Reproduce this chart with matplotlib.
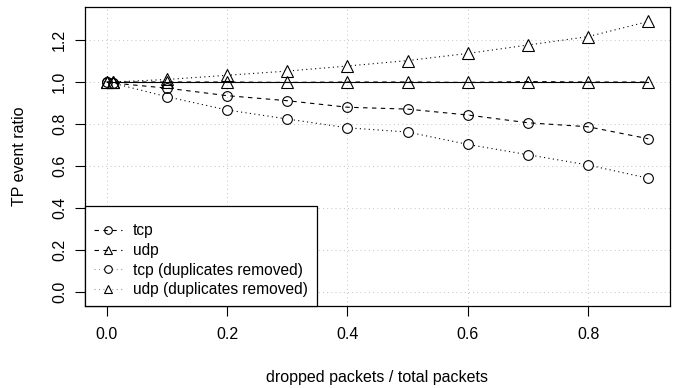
import matplotlib
matplotlib.use("Agg")
import matplotlib.pyplot as plt
from matplotlib.lines import Line2D

plt.rcParams['font.family'] = ['Liberation Sans', 'DejaVu Sans']

# dropped packets / total packets
drop_ratio = [0.0, 0.01, 0.1, 0.2, 0.3, 0.4, 0.5, 0.6, 0.7, 0.8, 0.9]

# TP event ratio per series
tcp = [1.0, 0.995, 0.971, 0.935, 0.911, 0.880, 0.871, 0.843, 0.806, 0.787, 0.730]
udp = [1.0, 1.0, 1.0, 1.0, 0.998, 1.0, 1.0, 0.998, 1.002, 1.0, 1.0]
tcp_dedup = [1.0, 0.995, 0.930, 0.867, 0.824, 0.782, 0.762, 0.703, 0.654, 0.605, 0.542]
udp_dedup = [1.0, 1.0, 1.012, 1.032, 1.052, 1.076, 1.102, 1.136, 1.176, 1.216, 1.288]
baseline = [1.0] * len(drop_ratio)

xticks = [0.0, 0.2, 0.4, 0.6, 0.8]
yticks = [0.0, 0.2, 0.4, 0.6, 0.8, 1.0, 1.2]

fig = plt.figure(figsize=(6.81, 3.88), dpi=100)
ax = fig.add_axes([0.1248, 0.2113, 0.8590, 0.7707])

# grid like R's grid()
for v in xticks:
    ax.axvline(v, color='#c8c8c8', lw=0.75, ls=(0, (1, 3)), zorder=0)
for v in yticks:
    ax.axhline(v, color='#c8c8c8', lw=0.75, ls=(0, (1, 3)), zorder=0)

lw = 0.8
ms = 7
# duplicates removed: dotted lines broken at the points
ax.plot(drop_ratio, tcp_dedup, color='black', lw=lw, ls=(0, (1, 3)),
        marker='o', ms=ms, mfc='white', mec='black', mew=lw, zorder=2)
ax.plot(drop_ratio, udp_dedup, color='black', lw=lw, ls=(0, (1, 3)),
        marker='^', ms=ms + 1, mfc='white', mec='black', mew=lw, zorder=2)
ax.plot(drop_ratio, baseline, color='black', lw=lw, zorder=3)
ax.plot(drop_ratio, tcp, color='black', lw=lw, ls=(0, (4, 4)),
        marker='o', ms=ms, mfc='none', mec='black', mew=lw, zorder=4)
ax.plot(drop_ratio, udp, color='black', lw=lw, ls=(0, (4, 4)),
        marker='^', ms=ms + 1, mfc='none', mec='black', mew=lw, zorder=4)

ax.set_xlim(-0.036, 0.936)
ax.set_ylim(-0.066, 1.357)
ax.set_xticks(xticks)
ax.set_xticklabels([f'{v:.1f}' for v in xticks])
ax.set_yticks(yticks)
ax.set_yticklabels([f'{v:.1f}' for v in yticks], rotation=90, va='center')
ax.tick_params(direction='out', length=7, width=0.8, labelsize=11.5, pad=6)
ax.tick_params(axis='x', pad=8)
for s in ax.spines.values():
    s.set_linewidth(0.9)

ax.set_xlabel('dropped packets / total packets', fontsize=11.5, labelpad=20)
ax.set_ylabel('TP event ratio', fontsize=11.5, labelpad=18)

handles = [
    Line2D([], [], color='black', lw=lw, ls=(0, (4, 4)), marker='o', ms=ms - 1.5, mfc='none', mew=lw),
    Line2D([], [], color='black', lw=lw, ls=(0, (4, 4)), marker='^', ms=ms - 1, mfc='none', mew=lw),
    Line2D([], [], color='#999999', lw=lw, ls=(0, (1, 3)), marker='o', ms=ms - 1.5, mfc='white', mec='black', mew=lw),
    Line2D([], [], color='#999999', lw=lw, ls=(0, (1, 3)), marker='^', ms=ms - 1, mfc='white', mec='black', mew=lw),
]
labels = ['tcp', 'udp', 'tcp (duplicates removed)', 'udp (duplicates removed)']
# empty tiny title gives the extra top padding that R's legend box has
leg = ax.legend(handles, labels, loc='lower left', borderaxespad=0, fontsize=11.2,
                frameon=True, fancybox=False, framealpha=1, edgecolor='black',
                handlelength=1.8, handletextpad=0.75, labelspacing=0.3,
                borderpad=0.55, numpoints=1, title=' ', title_fontsize=3)
leg.get_frame().set_linewidth(0.9)
leg.set_zorder(5)

fig.savefig('out.png', dpi=100)
